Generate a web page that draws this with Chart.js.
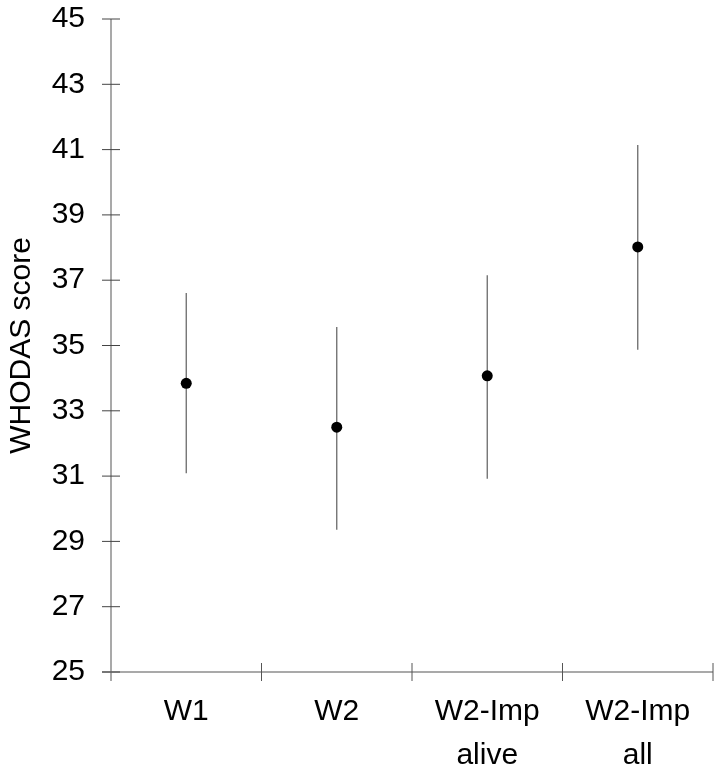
<!DOCTYPE html>
<html>
<head>
<meta charset="utf-8">
<script src="https://cdn.jsdelivr.net/npm/chart.js@4.4.1/dist/chart.umd.min.js"></script>
<style>
  html, body { margin: 0; padding: 0; background: #fff; }
  #wrap { width: 723px; height: 782px; }
</style>
</head>
<body>
<div id="wrap"><canvas id="chart" width="723" height="782"></canvas></div>
<script>
// WHODAS score per gruppo, con intervallo (barre d'errore)
const categories = [['W1'], ['W2'], ['W2-Imp', 'alive'], ['W2-Imp', 'all']];
const means = [33.84, 32.50, 34.07, 38.02];
const lower = [31.09, 29.36, 30.92, 34.87];
const upper = [36.61, 35.57, 37.15, 41.14];
const yTicks = [25, 27, 29, 31, 33, 35, 37, 39, 41, 43, 45];

const axisGray = '#8c8c8c';
const font = { family: '"Liberation Sans", Arial, sans-serif', size: 30 };

// barre verticali + tacche che attraversano gli assi
const errorBars = {
  id: 'errorBars',
  beforeDatasetsDraw(chart) {
    const { ctx, scales: { x, y } } = chart;
    ctx.save();
    ctx.strokeStyle = '#6a6a6a';
    ctx.lineWidth = 1.3;
    means.forEach((m, i) => {
      const px = x.getPixelForValue(i);
      ctx.beginPath();
      ctx.moveTo(px, y.getPixelForValue(lower[i]));
      ctx.lineTo(px, y.getPixelForValue(upper[i]));
      ctx.stroke();
    });
    ctx.restore();
  },
  afterDraw(chart) {
    const { ctx, scales: { x, y } } = chart;
    ctx.save();
    ctx.strokeStyle = axisGray;
    ctx.lineWidth = 1.5;
    const ax = x.left;
    const ay = y.bottom;
    // asse y
    ctx.beginPath();
    ctx.moveTo(ax, y.top);
    ctx.lineTo(ax, ay + 9);
    ctx.stroke();
    // asse x
    ctx.beginPath();
    ctx.moveTo(ax - 9, ay);
    ctx.lineTo(x.right, ay);
    ctx.stroke();
    ctx.lineWidth = 1;
    ctx.strokeStyle = '#444';
    yTicks.forEach(v => {
      const py = y.getPixelForValue(v);
      ctx.beginPath();
      ctx.moveTo(ax - 9, py);
      ctx.lineTo(ax + 9, py);
      ctx.stroke();
    });
    ctx.strokeStyle = '#555';
    for (let i = 1; i <= categories.length; i++) {
      const px = x.getPixelForValue(i - 0.5);
      ctx.beginPath();
      ctx.moveTo(px, ay - 9);
      ctx.lineTo(px, ay + 9);
      ctx.stroke();
    }
    ctx.restore();
  }
};

new Chart(document.getElementById('chart'), {
  type: 'line',
  data: {
    labels: categories,
    datasets: [{
      data: means,
      showLine: false,
      pointRadius: 5.5,
      pointBackgroundColor: '#000',
      pointBorderColor: '#000',
      pointBorderWidth: 0
    }]
  },
  options: {
    responsive: false,
    animation: false,
    layout: { padding: { left: 0, top: 19, right: 10, bottom: 0 } },
    plugins: { legend: { display: false }, tooltip: { enabled: false } },
    scales: {
      x: {
        type: 'category',
        offset: true,
        grid: { display: false },
        border: { display: false },
        ticks: { color: '#000', font: { ...font, lineHeight: 1.45 }, padding: 10, maxRotation: 0, autoSkip: false },
        afterFit(scale) { scale.height = 110; scale.paddingLeft = 0; scale.paddingRight = 0; }
      },
      y: {
        min: 25,
        max: 45,
        afterBuildTicks(scale) { scale.ticks = yTicks.map(v => ({ value: v })); },
        grid: { display: false },
        border: { display: false },
        ticks: { color: '#000', font, padding: 18 },
        title: { display: true, text: 'WHODAS score', color: '#000', font, padding: { top: 4, bottom: 0 } },
        afterFit(scale) { scale.width = 111; scale.paddingTop = 0; scale.paddingBottom = 0; }
      }
    }
  },
  plugins: [errorBars]
});
</script>
</body>
</html>
